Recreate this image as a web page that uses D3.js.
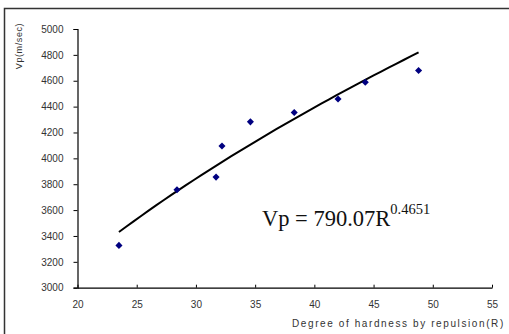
<!DOCTYPE html>
<html><head><meta charset="utf-8">
<script src="https://cdn.jsdelivr.net/npm/d3@7/dist/d3.min.js"></script>
<style>
html,body{margin:0;padding:0;background:#fff;}
svg{display:block;}
</style></head>
<body>
<script>
// Data
const hardnessR = [23.5, 28.4, 31.7, 32.2, 34.6, 38.3, 42.0, 44.3, 48.8];
const velocityVp = [3327, 3757, 3855, 4096, 4282, 4354, 4459, 4588, 4679];
const xTicks = [20, 25, 30, 35, 40, 45, 50, 55];
const yTicks = [3000, 3200, 3400, 3600, 3800, 4000, 4200, 4400, 4600, 4800, 5000];
// Power trendline shown on the chart: Vp = 790.07 R^0.4651
const trendCoef = 790.07;
const trendExp = 0.4651;
const xLabel = "Degree of hardness by repulsion(R)";
const yLabel = "Vp(m/sec)";

const W = 509, H = 334;
const svg = d3.select("body").append("svg").attr("width", W).attr("height", H);

// frame
svg.append("rect").attr("x", 4.5).attr("y", 8.5).attr("width", 520).attr("height", 340)
  .attr("fill", "none").attr("stroke", "#333").attr("stroke-width", 1.5);

const x = d3.scaleLinear().domain([20, 55]).range([77.5, 492]);
const y = d3.scaleLinear().domain([3000, 5000]).range([287.7, 29]);

const font = "Liberation Sans, Arial, sans-serif";

// y axis
const yAxis = svg.append("g").attr("transform", `translate(${x(20)},0)`)
  .call(d3.axisLeft(y).tickValues(yTicks).tickSize(4).tickPadding(10).tickFormat(d3.format("d")));
yAxis.select(".domain").attr("stroke", "#000").attr("stroke-width", 1.2);
yAxis.selectAll(".tick line").attr("stroke", "#000");
yAxis.selectAll("text").attr("font-family", font).attr("font-size", 10).attr("fill", "#333");

// x axis
const xAxis = svg.append("g").attr("transform", `translate(0,${y(3000)})`)
  .call(d3.axisBottom(x).tickValues(xTicks).tickSizeInner(-3).tickSizeOuter(0).tickPadding(13));
xAxis.select(".domain").attr("stroke", "#000").attr("stroke-width", 1.2);
xAxis.selectAll(".tick line").attr("stroke", "#000");
xAxis.selectAll("text").attr("font-family", font).attr("font-size", 10).attr("fill", "#333");

// axis titles
svg.append("text").attr("transform", "translate(22,46) rotate(-90)")
  .attr("text-anchor", "middle").attr("font-family", font).attr("font-size", 9)
  .attr("letter-spacing", 0.6).attr("fill", "#333").text(yLabel);
svg.append("text").attr("x", 292).attr("y", 327)
  .attr("font-family", font).attr("font-size", 10).attr("letter-spacing", 1.6)
  .attr("fill", "#333").text(xLabel);

// trendline from the displayed equation
const rMin = d3.min(hardnessR), rMax = d3.max(hardnessR);
const trendR = d3.range(rMin, rMax + 0.001, (rMax - rMin) / 40);
svg.append("path")
  .datum(trendR)
  .attr("fill", "none").attr("stroke", "#000").attr("stroke-width", 2)
  .attr("d", d3.line().x(r => x(r)).y(r => y(trendCoef * Math.pow(r, trendExp))));

// points
svg.selectAll(".pt").data(hardnessR).enter().append("path")
  .attr("class", "pt")
  .attr("transform", (d, i) => `translate(${x(d)},${y(velocityVp[i])})`)
  .attr("d", d3.symbol().type(d3.symbolDiamond2).size(32))
  .attr("fill", "#000080");

// equation
const eq = svg.append("text").attr("x", 262).attr("y", 226)
  .attr("font-family", "Liberation Serif, Times New Roman, serif").attr("font-size", 22.5).attr("fill", "#111");
eq.append("tspan").text("Vp = 790.07R");
eq.append("tspan").attr("dy", -12).attr("font-size", 14.5).text("0.4651");
</script>
</body></html>
